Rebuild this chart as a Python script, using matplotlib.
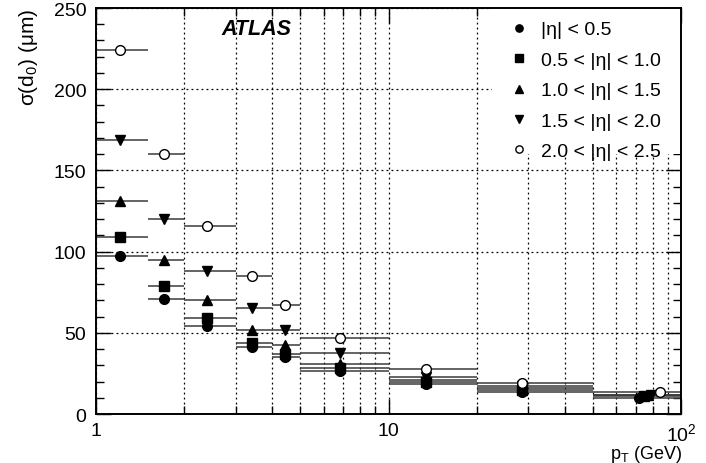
import numpy as np
import matplotlib
matplotlib.use("Agg")
import matplotlib.pyplot as plt
from matplotlib.patches import Rectangle
from matplotlib.ticker import FixedLocator, FixedFormatter, MultipleLocator, NullFormatter

plt.rcParams["font.family"] = ["Liberation Sans", "DejaVu Sans"]
plt.rcParams["mathtext.fontset"] = "custom"
plt.rcParams["mathtext.rm"] = "Liberation Sans"
plt.rcParams["mathtext.it"] = "Liberation Sans:italic"
plt.rcParams["mathtext.bf"] = "Liberation Sans:bold"
plt.rcParams["mathtext.default"] = "regular"

# ------------------------------
# Data
# ------------------------------
bin_lo = [1.0, 1.5, 2.0, 3.0, 4.0, 5.0, 10.0, 20.0, 50.0]
bin_hi = [1.5, 2.0, 3.0, 4.0, 5.0, 10.0, 20.0, 50.0, 100.0]
pt_centre = [1.21, 1.71, 2.4, 3.41, 4.43, 6.8, 13.4, 28.6, 75.0]
pt_last = [72.0, 75.0, 77.0, 79.0, 85.0]  # last-bin mean pT per eta slice

eta_labels = ["|η| < 0.5", "0.5 < |η| < 1.0", "1.0 < |η| < 1.5",
              "1.5 < |η| < 2.0", "2.0 < |η| < 2.5"]

sigma_eta0 = [97, 71, 54, 41, 35, 26.5, 18.5, 13.5, 10]
sigma_eta1 = [109, 79, 59, 44, 37, 28.5, 20, 15, 11]
sigma_eta2 = [131, 95, 70, 52, 42.5, 31, 21, 16, 11.5]
sigma_eta3 = [169, 120, 88, 65, 52, 37.5, 23, 17, 12]
sigma_eta4 = [224, 160, 116, 85, 67, 47, 28, 19, 13.5]

x_tick_vals = [1, 10, 100]
x_tick_labels = ["1", "10", "10$^2$"]

series = [
    (sigma_eta0, "o", "black"),
    (sigma_eta1, "s", "black"),
    (sigma_eta2, "^", "black"),
    (sigma_eta3, "v", "black"),
    (sigma_eta4, "o", "white"),
]

# ------------------------------
# Plot
# ------------------------------
fig = plt.figure(figsize=(7.06, 4.64), dpi=100)
ax = fig.add_axes([0.136, 0.1056, 0.8286, 0.875])
ax.set_xscale("log")

for i, (vals, mk, face) in enumerate(series):
    x = np.array(pt_centre)
    x[-1] = pt_last[i]
    y = np.array(vals, dtype=float)
    xerr = [x - np.array(bin_lo), np.array(bin_hi) - x]
    ax.errorbar(x, y, xerr=xerr, fmt="none", ecolor="#3a3a3a",
                elinewidth=1.1, capsize=0, zorder=2)
    ax.plot(x, y, linestyle="none", marker=mk, markersize=7,
            markerfacecolor=face, markeredgecolor="black",
            markeredgewidth=1.0, zorder=3, label=eta_labels[i])

ax.set_xlim(1, 100)
ax.set_ylim(0, 250)

ax.xaxis.set_major_locator(FixedLocator(x_tick_vals))
ax.xaxis.set_major_formatter(FixedFormatter(x_tick_labels))
minor_x = [m * d for d in (1, 10) for m in range(2, 10)]
ax.xaxis.set_minor_locator(FixedLocator(minor_x))
ax.xaxis.set_minor_formatter(NullFormatter())
ax.yaxis.set_major_locator(MultipleLocator(50))
ax.yaxis.set_minor_locator(MultipleLocator(10))

ax.tick_params(which="both", direction="in", top=True, right=True,
               labelsize=14, width=1.0)
ax.tick_params(which="major", length=11, pad=7)
ax.tick_params(which="minor", length=6)
ax.tick_params(axis="x", which="major", pad=6)

ax.grid(True, which="major", axis="y", color="black", linestyle=(0, (1.5, 2.5)), linewidth=0.9)
ax.grid(True, which="both", axis="x", color="black", linestyle=(0, (1.5, 2.5)), linewidth=0.9)
ax.set_axisbelow(True)

# white legend pad that hides the grid behind the legend
ax.add_patch(Rectangle((0.677, 0.64), 0.323, 0.36, transform=ax.transAxes,
                       facecolor="white", edgecolor="none", zorder=1.5))

for s in ax.spines.values():
    s.set_linewidth(1.4)

ax.set_ylabel("σ(d$_0$) (μm)", fontsize=15, loc="top")
ax.set_xlabel("p$_T$ (GeV)", fontsize=13, loc="right")
ax.yaxis.set_label_coords(-0.095, 1.0)
ax.xaxis.set_label_coords(1.003, -0.071)

ax.text(0.275, 0.95, "ATLAS", transform=ax.transAxes, fontsize=15.5,
        fontweight="bold", fontstyle="italic", ha="center", va="center")

ax.legend(loc="upper right", frameon=False, fontsize=14, handlelength=1.0,
          handletextpad=0.6, labelspacing=0.66, borderaxespad=0.2,
          markerscale=0.75, bbox_to_anchor=(0.985, 0.997))

plt.savefig("out.png", dpi=100)
